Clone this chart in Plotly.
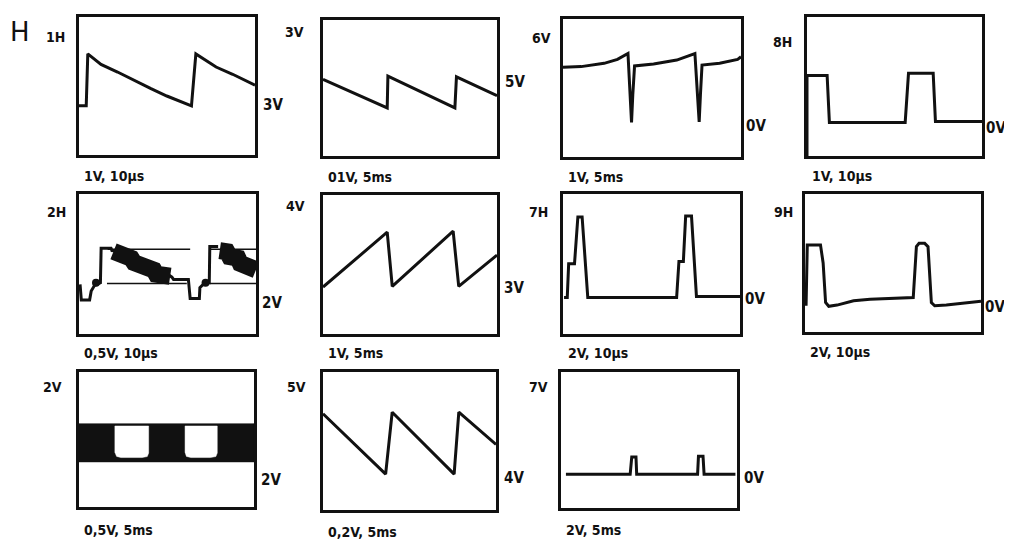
import plotly.graph_objects as go

# ---------------- data: waveform vertices in screen divisions (x 0-10, y 0-8) -------------
w1h_x = [0, 0.41, 0.50, 1.25, 2.19, 3.12, 4.06, 4.99, 5.74, 6.39, 6.64, 7.23, 7.79, 8.73, 10.0]
w1h_y = [2.85, 2.85, 5.86, 5.25, 4.81, 4.33, 3.86, 3.42, 3.10, 2.85, 5.86, 5.48, 5.10, 4.68, 4.05]

w3v_x = [0, 3.69, 3.73, 7.58, 7.67, 10.0]
w3v_y = [4.51, 2.83, 4.70, 2.83, 4.66, 3.55]

w6v_x = [0, 1.02, 2.31, 3.06, 3.65, 3.78, 3.85, 3.92, 4.02, 5.09, 6.39, 7.41, 7.55, 7.65, 7.72, 7.81, 8.80, 9.81, 10.0]
w6v_y = [5.20, 5.24, 5.43, 5.66, 6.00, 3.40, 2.00, 3.60, 5.28, 5.39, 5.62, 6.00, 3.40, 2.04, 3.60, 5.33, 5.43, 5.66, 5.81]

w8h_x = [0, 0, 1.15, 1.28, 5.61, 5.80, 7.21, 7.34, 10.0]
w8h_y = [0, 4.63, 4.63, 1.93, 1.93, 4.76, 4.76, 1.98, 1.98]

w2h_x = [0.06, 0.13, 0.60, 0.69, 0.88, 1.21, 1.25, 1.81, 1.86, 2.33, 2.46, 2.96, 3.11, 3.58, 3.71, 4.23, 4.36, 4.97, 5.25,
         5.34, 6.18, 6.28, 6.80, 6.83, 7.11, 7.36, 7.39, 7.86]
w2h_y = [2.84, 1.95, 1.95, 2.46, 2.78, 2.93, 4.90, 4.90, 4.77, 4.73, 4.47, 4.39, 4.15, 4.06, 3.83, 3.72, 3.49, 3.44, 3.25,
         3.12, 3.12, 2.03, 2.03, 2.65, 2.93, 2.93, 5.00, 5.00]
w2h_blob1_x = [1.95, 2.33, 2.46, 2.96, 3.11, 3.58, 3.71, 4.23, 4.36, 4.97, 5.15]
w2h_blob1_y = [4.72, 4.66, 4.40, 4.32, 4.08, 3.99, 3.76, 3.65, 3.42, 3.37, 3.30]
w2h_blob2_x = [7.95, 8.36, 8.51, 8.98, 9.11, 9.53, 9.66, 10.0]
w2h_blob2_y = [4.76, 4.70, 4.42, 4.33, 4.04, 3.97, 3.72, 3.67]
w2h_thin_x = [[1.62, 6.28], [1.58, 6.09], [7.39, 10.0], [7.39, 10.0]]
w2h_thin_y = [[4.85, 4.85], [2.89, 2.89], [4.85, 4.85], [2.89, 2.89]]
w2h_dot_x = [0.96, 7.15]
w2h_dot_y = [2.93, 2.93]

w4v_x = [0, 3.69, 3.98, 7.48, 7.80, 10.0]
w4v_y = [2.70, 5.86, 2.74, 5.92, 2.74, 4.54]

w7h_x = [0.06, 0.24, 0.32, 0.65, 0.84, 1.08, 1.40, 6.42, 6.55, 6.80, 6.93, 7.26, 7.54, 10.0]
w7h_y = [2.08, 2.08, 4.02, 4.02, 6.69, 6.69, 2.08, 2.08, 4.15, 4.15, 6.74, 6.74, 2.14, 2.14]

w9h_x = [0.06, 0.13, 0.88, 1.03, 1.17, 1.35, 1.82, 2.76, 3.70, 4.64, 6.15, 6.33, 6.48, 6.80, 6.99, 7.18, 7.37, 8.03, 8.97, 9.91, 10.0]
w9h_y = [1.52, 5.05, 5.05, 4.00, 1.71, 1.49, 1.56, 1.81, 1.90, 1.94, 2.00, 4.95, 5.14, 5.14, 4.95, 1.71, 1.52, 1.56, 1.68, 1.77, 1.78]

w2v_band_x = [0, 10, 10, 0, 0]
w2v_band_y = [2.67, 2.67, 4.94, 4.94, 2.67]
w2v_hole1_x = [2.05, 3.98, 3.98, 3.90, 3.60, 2.40, 2.15, 2.05, 2.05]
w2v_hole1_y = [4.80, 4.80, 3.20, 2.99, 2.93, 2.93, 3.00, 3.25, 4.80]
w2v_hole2_x = [6.06, 7.90, 7.90, 7.82, 7.50, 6.40, 6.14, 6.06, 6.06]
w2v_hole2_y = [4.80, 4.80, 3.20, 2.99, 2.93, 2.93, 3.00, 3.25, 4.80]

w5v_x = [0, 3.62, 4.00, 7.58, 7.85, 10.0]
w5v_y = [5.58, 2.08, 5.67, 2.08, 5.67, 3.80]

w7v_x = [0.28, 3.93, 4.02, 4.26, 4.30, 7.76, 7.81, 8.07, 8.13, 9.91]
w7v_y = [1.98, 1.98, 3.00, 3.00, 1.98, 1.98, 3.04, 3.04, 1.98, 1.98]

left_labels = ["1H", "3V", "6V", "8H", "2H", "4V", "7H", "9H", "2V", "5V", "7V"]
right_labels = ["3V", "5V", "0V", "0V", "2V", "3V", "0V", "0V", "2V", "4V", "0V"]
bottom_labels = ["1V, 10µs", "01V, 5ms", "1V, 5ms", "1V, 10µs", "0,5V, 10µs", "1V, 5ms",
                 "2V, 10µs", "2V, 10µs", "0,5V, 5ms", "0,2V, 5ms", "2V, 5ms"]
title_letter = "H"

# ---------------- layout (page pixel positions of each screen box) ----------------
PAGE_W, PAGE_H = 1012, 545
OFF = 8                      # default body margin of the page
W, H = PAGE_W - OFF, PAGE_H - OFF

boxes = [
    (79, 17, 255, 155), (323, 20, 497, 156), (563, 19, 741, 157), (807, 17, 982, 156),
    (79, 194, 256, 334), (323, 195, 497, 334), (563, 194, 740, 334), (805, 194, 981, 332),
    (79, 372, 254, 507), (323, 372, 496, 510), (561, 372, 737, 508),
]
left_pos = [(67, 37), (306, 32), (553, 38), (794, 42), (68, 212), (307, 206), (550, 212), (795, 212),
            (64, 387), (308, 387), (550, 387)]
right_pos = [(261, 105), (503, 82), (744, 126), (984, 128), (260, 303), (502, 288), (743, 299), (983, 307),
             (259, 480), (502, 478), (742, 478)]
bottom_dy = [21, 21, 20, 20, 19, 19, 19, 20, 23, 22, 22]


def px(x):
    return (x - OFF) / W


def py(y):
    return 1 - (y - OFF) / H


BLACK = "#111111"
LW = 3
FONT = "DejaVu Sans Condensed, Liberation Sans Narrow, Arial Narrow, Roboto, sans-serif"

fig = go.Figure()


def line(i, x, y, width=LW):
    fig.add_trace(go.Scatter(x=x, y=y, mode="lines", xaxis=f"x{i+1}", yaxis=f"y{i+1}",
                             line=dict(color=BLACK, width=width), hoverinfo="skip", showlegend=False))


def fill(i, x, y, color):
    fig.add_trace(go.Scatter(x=x, y=y, mode="lines", fill="toself", fillcolor=color, xaxis=f"x{i+1}",
                             yaxis=f"y{i+1}", line=dict(color=color, width=0.5), hoverinfo="skip",
                             showlegend=False))


line(0, w1h_x, w1h_y)
line(1, w3v_x, w3v_y)
line(2, w6v_x, w6v_y)
line(3, w8h_x, w8h_y)
for tx, ty in zip(w2h_thin_x, w2h_thin_y):
    line(4, tx, ty, 1.5)
line(4, w2h_x, w2h_y)
line(4, w2h_blob1_x, w2h_blob1_y, 17)
line(4, w2h_blob2_x, w2h_blob2_y, 17)
fig.add_trace(go.Scatter(x=w2h_dot_x, y=w2h_dot_y, mode="markers", xaxis="x5", yaxis="y5",
                         marker=dict(color=BLACK, size=8), hoverinfo="skip", showlegend=False))
line(5, w4v_x, w4v_y)
line(6, w7h_x, w7h_y)
line(7, w9h_x, w9h_y)
fill(8, w2v_band_x, w2v_band_y, BLACK)
fill(8, w2v_hole1_x, w2v_hole1_y, "white")
fill(8, w2v_hole2_x, w2v_hole2_y, "white")
line(9, w5v_x, w5v_y)
line(10, w7v_x, w7v_y)

layout = dict(width=W, height=H, margin=dict(l=0, r=0, t=0, b=0), paper_bgcolor="white",
              plot_bgcolor="white", showlegend=False)
ax = dict(showgrid=False, zeroline=False, showticklabels=False, ticks="", showline=True, mirror=True,
          linecolor=BLACK, linewidth=LW, fixedrange=True)
annotations = []
for i, (x0, y0, x1, y1) in enumerate(boxes):
    layout[f"xaxis{i+1}"] = dict(ax, domain=[px(x0), px(x1)], range=[0, 10], anchor=f"y{i+1}")
    layout[f"yaxis{i+1}"] = dict(ax, domain=[py(y1), py(y0)], range=[0, 8], anchor=f"x{i+1}")
    lx, ly = left_pos[i]
    annotations.append(dict(text=left_labels[i], x=px(lx), y=py(ly), xref="paper", yref="paper",
                            xanchor="right", yanchor="middle", showarrow=False,
                            font=dict(family=FONT, size=14, color=BLACK, weight="bold")))
    rx, ry = right_pos[i]
    annotations.append(dict(text=right_labels[i], x=px(rx), y=py(ry), xref="paper", yref="paper",
                            xanchor="left", yanchor="middle", showarrow=False,
                            font=dict(family=FONT, size=15, color=BLACK, weight="bold")))
    annotations.append(dict(text=bottom_labels[i], x=px(x0 + 3), y=py(y1 + bottom_dy[i]),
                            xref="paper", yref="paper", xanchor="left", yanchor="middle", showarrow=False,
                            font=dict(family=FONT, size=14, color=BLACK, weight="bold")))
annotations.append(dict(text=title_letter, x=px(8), y=py(32), xref="paper", yref="paper",
                        xanchor="left", yanchor="middle", showarrow=False,
                        font=dict(family="DejaVu Sans, sans-serif", size=26, color=BLACK)))
layout["annotations"] = annotations
fig.update_layout(**layout)
fig.write_html("out.html")
